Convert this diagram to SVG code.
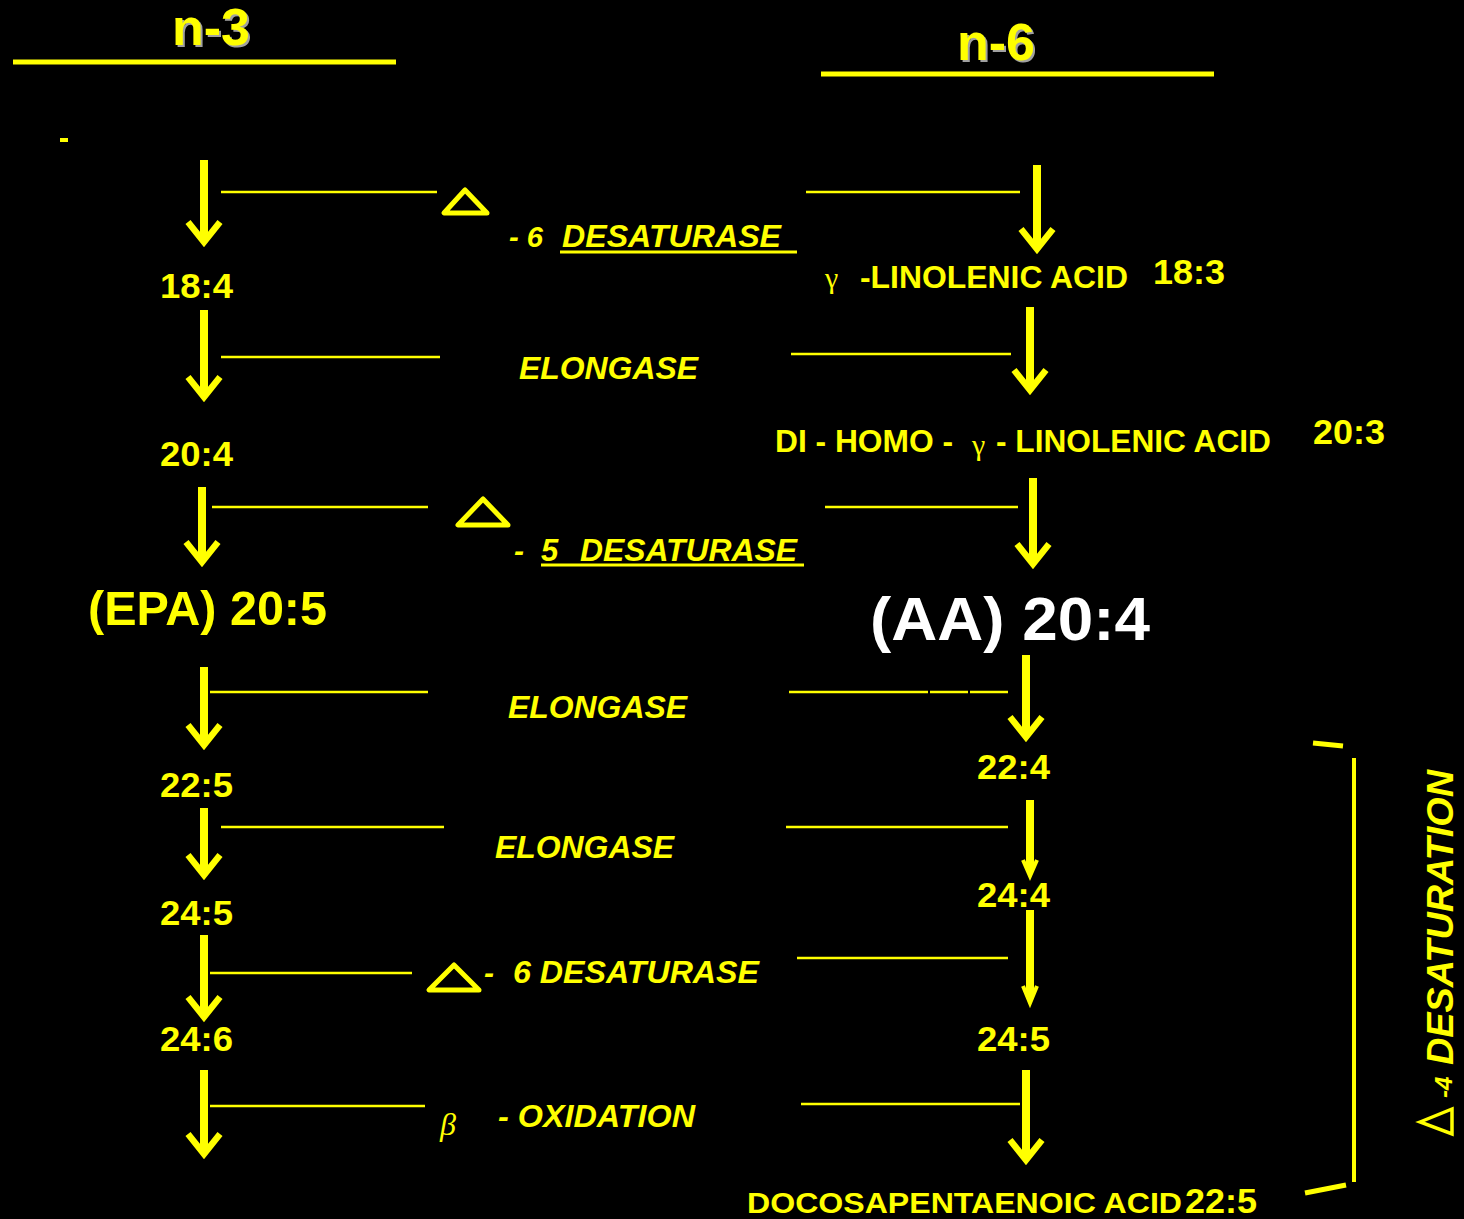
<svg xmlns="http://www.w3.org/2000/svg" width="1464" height="1219" viewBox="0 0 1464 1219">
<style>
.t{font-family:"Liberation Sans",Arial,sans-serif;font-weight:bold;fill:#FFFF00}
.i{font-style:italic}
.g{font-family:"Liberation Serif","Times New Roman",serif;fill:#FFFF00}
.sh{font-family:"Liberation Sans",Arial,sans-serif;font-weight:bold;fill:#A0A0A0}
.sh2{font-family:"Liberation Sans",Arial,sans-serif;font-weight:bold;fill:#FFFF00}
.h{stroke:#FFFF00;stroke-width:2.5;fill:none}
.s{stroke:#FFFF00;stroke-width:8;fill:none}
.hd{stroke:#FFFF00;stroke-width:6.5;fill:none;stroke-linejoin:miter}
.tri{stroke:#FFFF00;stroke-width:5;fill:none;stroke-linejoin:round}
.ul{stroke:#FFFF00;stroke-width:3}
</style>
<rect x="0" y="0" width="1464" height="1219" fill="#000"/>
<g id="header-n3">
<text class="sh" x="174" y="47" font-size="52">n-3</text>
<text class="sh2" x="172" y="45" font-size="52">n-3</text>
<line x1="13" y1="62" x2="396" y2="62" stroke="#FFFF00" stroke-width="5"/>
<rect x="60" y="138" width="8" height="4" fill="#FFFF00"/>
</g>
<g id="header-n6">
<text class="sh" x="959" y="62" font-size="52">n-6</text>
<text class="sh2" x="957" y="60" font-size="52">n-6</text>
<line x1="821" y1="74" x2="1214" y2="74" stroke="#FFFF00" stroke-width="5"/>
</g>
<g id="connectors">
<line class="s" x1="204" y1="160" x2="204" y2="238"/><path class="hd" d="M188,222 L204,242 L220,222"/>
<line class="s" x1="204" y1="310" x2="204" y2="393"/><path class="hd" d="M188,377 L204,397 L220,377"/>
<line class="s" x1="202" y1="487" x2="202" y2="558"/><path class="hd" d="M186,542 L202,562 L218,542"/>
<line class="s" x1="204" y1="667" x2="204" y2="741"/><path class="hd" d="M188,725 L204,745 L220,725"/>
<line class="s" x1="204" y1="808" x2="204" y2="871"/><path class="hd" d="M188,855 L204,875 L220,855"/>
<line class="s" x1="204" y1="935" x2="204" y2="1013"/><path class="hd" d="M188,997 L204,1017 L220,997"/>
<line class="s" x1="204" y1="1070" x2="204" y2="1150"/><path class="hd" d="M188,1134 L204,1154 L220,1134"/>
<line class="s" x1="1037" y1="165" x2="1037" y2="245"/><path class="hd" d="M1021,229 L1037,249 L1053,229"/>
<line class="s" x1="1030" y1="307" x2="1030" y2="386"/><path class="hd" d="M1014,370 L1030,390 L1046,370"/>
<line class="s" x1="1033" y1="478" x2="1033" y2="560"/><path class="hd" d="M1017,544 L1033,564 L1049,544"/>
<line class="s" x1="1026" y1="655" x2="1026" y2="733"/><path class="hd" d="M1010,717 L1026,737 L1042,717"/>
<line class="s" x1="1030" y1="800" x2="1030" y2="872"/><path class="hd" d="M1023,860 L1030,876 L1037,860" style="stroke-width:4"/>
<line class="s" x1="1030" y1="910" x2="1030" y2="998"/><path class="hd" d="M1023,986 L1030,1003 L1037,986" style="stroke-width:4"/>
<line class="s" x1="1026" y1="1070" x2="1026" y2="1156"/><path class="hd" d="M1010,1140 L1026,1160 L1042,1140"/>
<line class="h" x1="221" y1="192" x2="437" y2="192"/><line class="h" x1="806" y1="192" x2="1020" y2="192"/>
<line class="h" x1="221" y1="357" x2="440" y2="357"/><line class="h" x1="791" y1="354" x2="1011" y2="354"/>
<line class="h" x1="212" y1="507" x2="428" y2="507"/><line class="h" x1="825" y1="507" x2="1018" y2="507"/>
<line class="h" x1="210" y1="692" x2="428" y2="692"/>
<line class="h" x1="789" y1="692" x2="928" y2="692"/><line class="h" x1="930" y1="692" x2="968" y2="692"/><line class="h" x1="970" y1="692" x2="1008" y2="692"/>
<line class="h" x1="221" y1="827" x2="444" y2="827"/><line class="h" x1="786" y1="827" x2="1008" y2="827"/>
<line class="h" x1="210" y1="973" x2="412" y2="973"/><line class="h" x1="797" y1="958" x2="1008" y2="958"/>
<line class="h" x1="210" y1="1106" x2="425" y2="1106"/><line class="h" x1="801" y1="1104" x2="1020" y2="1104"/>
<line x1="1354" y1="758" x2="1354" y2="1182" stroke="#FFFF00" stroke-width="4"/>
<line x1="1313" y1="743" x2="1343" y2="746" stroke="#FFFF00" stroke-width="5"/>
<line x1="1305" y1="1193" x2="1346" y2="1185" stroke="#FFFF00" stroke-width="5"/>
</g>
<g id="enzyme-d6">
<polygon class="tri" points="465,190 444,213 487,213"/>
<text class="t i" x="509" y="247" font-size="30" textLength="34" lengthAdjust="spacingAndGlyphs">- 6</text>
<text class="t i" x="562" y="247" font-size="31" textLength="219" lengthAdjust="spacingAndGlyphs">DESATURASE</text>
<line class="ul" x1="560" y1="252" x2="797" y2="252"/>
</g>
<g id="enzyme-elong1"><text class="t i" x="519" y="379" font-size="31" textLength="179" lengthAdjust="spacingAndGlyphs">ELONGASE</text></g>
<g id="enzyme-d5">
<polygon class="tri" points="483,499 458,525 508,525"/>
<text class="t i" x="514" y="561" font-size="30">-</text>
<text class="t i" x="541" y="561" font-size="31">5</text>
<text class="t i" x="580" y="561" font-size="31" textLength="217" lengthAdjust="spacingAndGlyphs">DESATURASE</text>
<line class="ul" x1="541" y1="565" x2="804" y2="565"/>
</g>
<g id="enzyme-elong2"><text class="t i" x="508" y="718" font-size="31" textLength="179" lengthAdjust="spacingAndGlyphs">ELONGASE</text></g>
<g id="enzyme-elong3"><text class="t i" x="495" y="858" font-size="31" textLength="179" lengthAdjust="spacingAndGlyphs">ELONGASE</text></g>
<g id="enzyme-d6b">
<polygon class="tri" points="454,965 429,990 479,990"/>
<text class="t i" x="484" y="983" font-size="30">-</text>
<text class="t i" x="513" y="983" font-size="31" textLength="246" lengthAdjust="spacingAndGlyphs">6 DESATURASE</text>
</g>
<g id="enzyme-box">
<text class="g i" x="440" y="1135" font-size="32">β</text>
<text class="t i" x="498" y="1127" font-size="31" textLength="197" lengthAdjust="spacingAndGlyphs">- OXIDATION</text>
</g>
<g id="n3-184"><text class="t" x="160" y="298" font-size="35" textLength="73" lengthAdjust="spacingAndGlyphs">18:4</text></g>
<g id="n3-204"><text class="t" x="160" y="466" font-size="35" textLength="73" lengthAdjust="spacingAndGlyphs">20:4</text></g>
<g id="n3-epa"><text class="t" x="88" y="625" font-size="48" textLength="239" lengthAdjust="spacingAndGlyphs">(EPA) 20:5</text></g>
<g id="n3-225"><text class="t" x="160" y="797" font-size="35" textLength="73" lengthAdjust="spacingAndGlyphs">22:5</text></g>
<g id="n3-245"><text class="t" x="160" y="925" font-size="35" textLength="73" lengthAdjust="spacingAndGlyphs">24:5</text></g>
<g id="n3-246"><text class="t" x="160" y="1051" font-size="35" textLength="73" lengthAdjust="spacingAndGlyphs">24:6</text></g>
<g id="n6-gla">
<text class="g" x="825" y="288" font-size="30">γ</text>
<text class="t" x="860" y="288" font-size="31" textLength="268" lengthAdjust="spacingAndGlyphs">-LINOLENIC ACID</text>
<text class="t" x="1153" y="284" font-size="35" textLength="72" lengthAdjust="spacingAndGlyphs">18:3</text>
</g>
<g id="n6-dgla">
<text class="t" x="775" y="452" font-size="31" textLength="178" lengthAdjust="spacingAndGlyphs">DI - HOMO -</text>
<text class="g" x="972" y="455" font-size="30">γ</text>
<text class="t" x="996" y="452" font-size="31" textLength="275" lengthAdjust="spacingAndGlyphs">- LINOLENIC ACID</text>
<text class="t" x="1313" y="444" font-size="35" textLength="72" lengthAdjust="spacingAndGlyphs">20:3</text>
</g>
<g id="n6-aa"><text class="t" x="870" y="640" font-size="62" textLength="280" lengthAdjust="spacingAndGlyphs" style="fill:#FFFFFF">(AA) 20:4</text></g>
<g id="n6-224"><text class="t" x="977" y="779" font-size="35" textLength="73" lengthAdjust="spacingAndGlyphs">22:4</text></g>
<g id="n6-244"><text class="t" x="977" y="907" font-size="35" textLength="73" lengthAdjust="spacingAndGlyphs">24:4</text></g>
<g id="n6-245"><text class="t" x="977" y="1051" font-size="35" textLength="73" lengthAdjust="spacingAndGlyphs">24:5</text></g>
<g id="n6-dpa">
<text class="t" x="747" y="1213" font-size="29" textLength="435" lengthAdjust="spacingAndGlyphs">DOCOSAPENTAENOIC ACID</text>
<text class="t" x="1185" y="1213" font-size="35" textLength="72" lengthAdjust="spacingAndGlyphs">22:5</text>
</g>
<g id="d4-label">
<polygon points="1420,1122 1452,1109 1452,1134" fill="none" stroke="#FFFF00" stroke-width="3.5"/>
<text class="t i" transform="translate(1452,1098) rotate(-90)" font-size="24">-4</text>
<text class="t i" transform="translate(1453,1065) rotate(-90)" font-size="37" textLength="295" lengthAdjust="spacingAndGlyphs">DESATURATION</text>
</g>
</svg>
